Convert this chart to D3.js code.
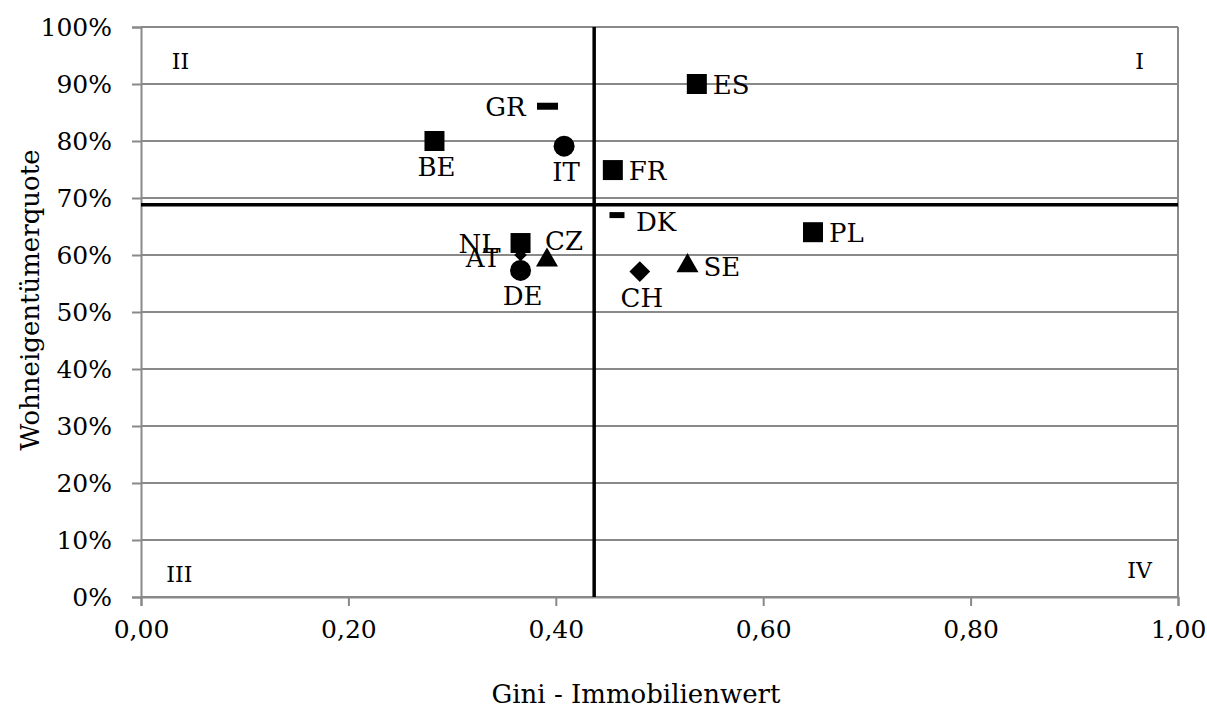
<!DOCTYPE html>
<html>
<head>
<meta charset="utf-8">
<script src="https://cdn.jsdelivr.net/npm/d3@7"></script>
<style>
  body { margin: 0; background: #fff; }
  svg text { font-family: "DejaVu Serif", "Liberation Serif", serif; fill: #000; }
</style>
</head>
<body>
<svg id="chart" width="1207" height="719"></svg>
<script>
// data
const countries = ["AT", "ES", "GR", "BE", "IT", "FR", "DK", "PL", "SE", "CH", "NL", "CZ", "DE"];
const gini      = [0.366, 0.536, 0.392, 0.283, 0.408, 0.455, 0.459, 0.648, 0.527, 0.481, 0.366, 0.3915, 0.366];
const quote     = [0.600, 0.900, 0.861, 0.800, 0.791, 0.749, 0.670, 0.640, 0.581, 0.571, 0.621, 0.591, 0.573];
const markers   = ["diamondSmall", "square", "dash", "square", "circle", "square", "dashSmall", "square", "triangle", "diamond", "square", "triangle", "circle"];
const labelPos  = ["leftLow", "right", "left", "below", "below", "right", "rightLow", "right", "right", "below", "left", "aboveRight", "below"];

const xTicks = [0, 0.2, 0.4, 0.6, 0.8, 1.0];
const yTicks = [0, 0.1, 0.2, 0.3, 0.4, 0.5, 0.6, 0.7, 0.8, 0.9, 1.0];

// quadrant separators (means)
const xSplit = 0.437;
const ySplit = 0.688;
const quadrants = ["I", "II", "III", "IV"];

const xTitle = "Gini - Immobilienwert";
const yTitle = "Wohneigentümerquote";

const svg = d3.select("#chart");

const plot = { left: 141, right: 1178, top: 27, bottom: 597 };

const x = d3.scaleLinear().domain([0, 1]).range([plot.left, plot.right]);
const y = d3.scaleLinear().domain([0, 1]).range([plot.bottom, plot.top]);

const gridColor = "#898989";
const fontSize = 25;

// horizontal gridlines
svg.append("g")
    .selectAll("line")
    .data(yTicks)
    .join("line")
        .attr("x1", x(0))
        .attr("x2", x(1))
        .attr("y1", d => y(d))
        .attr("y2", d => y(d))
        .style("stroke", gridColor)
        .style("stroke-width", 2)

// right border
svg.append("line")
    .attr("x1", x(1)).attr("x2", x(1))
    .attr("y1", y(0)).attr("y2", y(1))
    .style("stroke", gridColor)
    .style("stroke-width", 2)

// y axis
let yAxis = svg.append("g")
    .attr("transform", `translate(${x(0)},0)`)
    .call(d3.axisLeft(y)
        .tickValues(yTicks)
        .tickSize(9)
        .tickPadding(20)
        .tickFormat(d => Math.round(d * 100) + "%"))

// x axis
let xAxis = svg.append("g")
    .attr("transform", `translate(0,${y(0)})`)
    .call(d3.axisBottom(x)
        .tickValues(xTicks)
        .tickSize(9)
        .tickPadding(14)
        .tickFormat(d => d3.format(".2f")(d).replace(".", ",")))

for (let ax of [xAxis, yAxis]) {
    ax.select(".domain").style("stroke", gridColor).style("stroke-width", 2)
    ax.selectAll(".tick line").style("stroke", gridColor).style("stroke-width", 2)
    ax.selectAll(".tick text")
        .style("font-family", "DejaVu Serif, serif")
        .style("font-size", fontSize + "px")
        .attr("fill", "#000")
}

// quadrant lines
svg.append("line")
    .attr("x1", x(0)).attr("x2", x(1))
    .attr("y1", y(ySplit)).attr("y2", y(ySplit))
    .style("stroke", "#000")
    .style("stroke-width", 3.5)

svg.append("line")
    .attr("x1", x(xSplit)).attr("x2", x(xSplit))
    .attr("y1", y(0)).attr("y2", y(1))
    .style("stroke", "#000")
    .style("stroke-width", 3.5)

// quadrant numbers
const quadPos = {
    "I":   { x: x(0.963), y: y(0.94) },
    "II":  { x: x(0.038), y: y(0.94) },
    "III": { x: x(0.037), y: y(0.04) },
    "IV":  { x: x(0.963), y: y(0.047) }
}

svg.append("g")
    .selectAll("text")
    .data(quadrants)
    .join("text")
        .attr("x", d => quadPos[d].x)
        .attr("y", d => quadPos[d].y)
        .attr("text-anchor", "middle")
        .attr("dominant-baseline", "central")
        .style("font-size", "22px")
        .text(d => d)

// markers
const symbolOf = {
    square: { type: d3.symbolSquare, size: 400, rot: 0 },
    circle: { type: d3.symbolCircle, size: 346, rot: 0 },
    triangle: { type: d3.symbolTriangle, size: 210, rot: 0 },
    diamond: { type: d3.symbolSquare, size: 215, rot: 45 },
    diamondSmall: { type: d3.symbolSquare, size: 80, rot: 45 }
}

const points = countries.map((c, i) => ({
    name: c,
    gx: gini[i],
    qy: quote[i],
    marker: markers[i],
    pos: labelPos[i]
}))

let markLayer = svg.append("g")

points.forEach(p => {
    let px = x(p.gx)
    let py = y(p.qy)
    if (p.marker === "dash" || p.marker === "dashSmall") {
        let w = p.marker === "dash" ? 21 : 15
        let h = p.marker === "dash" ? 7 : 6
        markLayer.append("rect")
            .attr("x", px - w / 2)
            .attr("y", py - h / 2)
            .attr("width", w)
            .attr("height", h)
            .style("fill", "#000")
    } else {
        let s = symbolOf[p.marker]
        markLayer.append("path")
            .attr("d", d3.symbol().type(s.type).size(s.size)())
            .attr("transform", `translate(${px},${py}) rotate(${s.rot})`)
            .style("fill", "#000")
    }
})

// data labels
const labelOffset = {
    right:      { dx: 16,  dy: 1,   anchor: "start" },
    rightLow:   { dx: 19,  dy: 7,   anchor: "start" },
    left:       { dx: -22, dy: 1,   anchor: "end" },
    leftLow:    { dx: -20, dy: 3,   anchor: "end" },
    below:      { dx: 2,   dy: 26,  anchor: "middle" },
    aboveRight: { dx: -2,  dy: -19, anchor: "start" }
}

svg.append("g")
    .selectAll("text")
    .data(points)
    .join("text")
        .attr("x", d => x(d.gx) + labelOffset[d.pos].dx)
        .attr("y", d => y(d.qy) + labelOffset[d.pos].dy)
        .attr("text-anchor", d => labelOffset[d.pos].anchor)
        .attr("dominant-baseline", "central")
        .style("font-size", "26px")
        .text(d => d.name)

// axis titles
svg.append("text")
    .attr("x", 636)
    .attr("y", 694)
    .attr("text-anchor", "middle")
    .attr("dominant-baseline", "central")
    .style("font-size", "26px")
    .text(xTitle)

svg.append("text")
    .attr("transform", `translate(30,300) rotate(-90)`)
    .attr("text-anchor", "middle")
    .attr("dominant-baseline", "central")
    .style("font-size", "26px")
    .text(yTitle)
</script>
</body>
</html>
